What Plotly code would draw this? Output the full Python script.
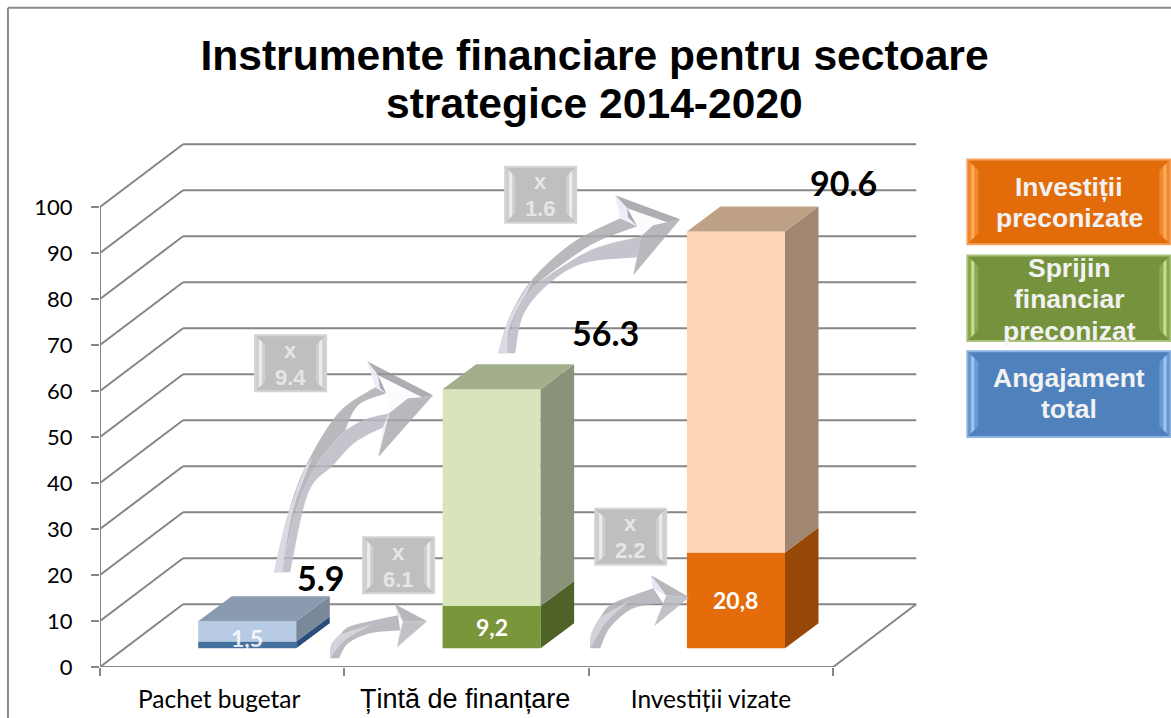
import plotly.graph_objects as go

# ---------- data ----------
categories = ["Pachet bugetar", "Țintă de finanțare", "Investiții vizate"]
lower_values = [1.5, 9.2, 20.8]
total_values = [5.9, 56.3, 90.6]
lower_labels = ["1,5", "9,2", "20,8"]
total_labels = ["5.9", "56.3", "90.6"]
y_ticks = [0, 10, 20, 30, 40, 50, 60, 70, 80, 90, 100]
multipliers = ["9.4", "6.1", "1.6", "2.2"]
legend_lines = [["Investiții", "preconizate"], ["Sprijin", "financiar", "preconizat"], ["Angajament", "total"]]

# ---------- geometry / style ----------
W, H = 1171, 718
PX0, PY0 = 100.0, 666.7      # pixel of x=-0.5, y=0
PX1, PY1 = 917.7, 142.7      # pixel of the far corner of the plot area
SX, SY = 244.3, 4.6          # px per unit
DEPTH_X, DEPTH_Y = 83 / SX, 62.7 / SY
BAR_W = 98 / SX
BAR_OX, BAR_OY = 25 / SX, 18.7 / SY
BAR_DX, BAR_DY = 33.5 / SX, 25 / SY
GRID = "#868686"
LF = "Lato"
AF = "Liberation Sans"

def fx(px): return (px - PX0) / (PX1 - PX0)   # pixel -> paper fraction
def fy(py): return (PY0 - py) / (PY0 - PY1)

front_low = ["#44709f", "#7a963a", "#e46c0a"]
front_up = ["#b7cce4", "#d8e4bc", "#fcd5b5"]
side_low = ["#2b4d7c", "#4f6228", "#974806"]
side_up = ["#79899a", "#8a9379", "#a18672"]
top_col = ["#8a9bb0", "#a3ae8c", "#bfa186"]

fig = go.Figure()
xs = [i + BAR_OX for i in range(3)]
fig.add_bar(x=xs, y=lower_values, base=[BAR_OY] * 3, width=BAR_W, marker=dict(color=front_low, line_width=0),
            showlegend=False, name="Angajament")
fig.add_bar(x=xs, y=[t - l for t, l in zip(total_values, lower_values)],
            base=[BAR_OY + l for l in lower_values], width=BAR_W,
            marker=dict(color=front_up, line_width=0), showlegend=False, name="Total")

def face(xv, yv, color):
    fig.add_scatter(x=xv, y=yv, mode="none", fill="toself", fillcolor=color, showlegend=False, hoverinfo="skip")

for i, (l, t) in enumerate(zip(lower_values, total_values)):
    x0 = xs[i] - BAR_W / 2
    x1 = xs[i] + BAR_W / 2
    b = BAR_OY
    face([x1, x1 + BAR_DX, x1 + BAR_DX, x1], [b, b + BAR_DY, b + l + BAR_DY, b + l], side_low[i])
    face([x1, x1 + BAR_DX, x1 + BAR_DX, x1], [b + l, b + l + BAR_DY, b + t + BAR_DY, b + t], side_up[i])
    face([x0, x1, x1 + BAR_DX, x0 + BAR_DX], [b + t, b + t, b + t + BAR_DY, b + t + BAR_DY], top_col[i])

shapes = []
def line(x0, y0, x1, y1, color=GRID, w=2, layer="below"):
    shapes.append(dict(type="line", xref="x", yref="y", x0=x0, y0=y0, x1=x1, y1=y1,
                       line=dict(color=color, width=w), layer=layer))

# wall grid, slanted joints, axes, floor
x_left, x_right = -0.5, 2.5
for v in y_ticks:
    line(x_left + DEPTH_X, v + DEPTH_Y, x_right + DEPTH_X, v + DEPTH_Y)
    line(x_left, v, x_left + DEPTH_X, v + DEPTH_Y)
line(x_left, 0, x_left, 100)
line(x_left, 0, x_right, 0)
line(x_right, 0, x_right + DEPTH_X, DEPTH_Y)

def poly(points, color):
    d = "M " + " L ".join(f"{fx(a):.5f},{fy(b):.5f}" for a, b in points) + " Z"
    shapes.append(dict(type="path", xref="paper", yref="paper", path=d, fillcolor=color, line_width=0, layer="above"))

def smooth(pts):
    """Catmull-Rom through pixel points (decoration outline only)."""
    p = [pts[0]] + list(pts) + [pts[-1]]
    out = []
    for k in range(1, len(p) - 2):
        p0, p1, p2, p3 = p[k - 1], p[k], p[k + 1], p[k + 2]
        for j in range(8):
            t = j / 8
            out.append(tuple(0.5 * (2 * p1[c] + (p2[c] - p0[c]) * t + (2 * p0[c] - 5 * p1[c] + 4 * p2[c] - p3[c]) * t * t
                                    + (3 * p1[c] - p0[c] - 3 * p2[c] + p3[c]) * t ** 3) for c in (0, 1)))
    out.append(pts[-1])
    return out

LAV = "rgba(236,236,250,0.92)"

def big_arrow(p):
    outer = smooth([p["bl"]] + p["outer"] + [p["ue"]])
    lower = smooth([p["gap"]] + p["lower_top"] + [p["ln"]])
    inner = smooth(p["inner"] + [p["le"]])          # from br up to lower arm end
    upper_in = smooth([p["un"]] + p["upper_in"] + [p["gap"]])
    spine = smooth([p["gap"]] + p["spine"] + [p["bm"]])
    # upper arm + left trunk
    poly(outer + upper_in + spine, "rgba(172,172,178,0.85)")
    # lower arm + right trunk
    poly(spine[::-1] + lower + inner[::-1], "rgba(186,186,196,0.85)")
    # highlight on the outer side of the trunk
    poly(smooth([p["bl"]] + p["outer"][:2]) + smooth(p["hl"] + [p["bm"]]), "rgba(222,222,232,0.9)")
    # head
    poly([p["h1"], p["h2"], p["h3"], p["ln"], p["un"]], "rgba(252,252,255,0.95)")
    poly([p["st"], p["tip"], p["h2"], p["h1"]], "rgba(150,150,156,0.78)")
    poly([p["tip"], p["ls"], p["ln"], p["h3"], p["h2"]], "rgba(166,166,172,0.80)")
    poly([p["st"], p["h1"], p["un"], p["ue"]], LAV)
    poly([p["h1"], p["un"], p["uc"]], "rgba(150,150,156,0.8)")
    poly([p["ls"], p["le"], p["ln"]], LAV)

big_arrow(dict(
    bl=(274, 572), bm=(282, 572), outer=[(287, 517), (305, 467), (338, 413)], ue=(375, 387),
    un=(386, 393), upper_in=[(358, 405)], gap=(345, 430), spine=[(318, 462), (296, 510)],
    lower_top=[(365, 419)], ln=(389, 413), le=(383, 427),
    inner=[(290, 572), (308, 493), (333, 465), (355, 442)],
    hl=[(312, 458), (293, 510)],
    st=(367, 361), tip=(433, 395), ls=(378, 457), h1=(378, 375), h2=(422, 397), h3=(408, 398), uc=(380, 388)))

big_arrow(dict(
    bl=(498, 353), bm=(507, 353), outer=[(510, 315), (533, 278), (573, 242)], ue=(620, 218),
    un=(637, 226), upper_in=[(590, 245)], gap=(538, 282), spine=[(525, 298), (512, 325)],
    lower_top=[(590, 250)], ln=(641, 236), le=(637, 257),
    inner=[(515, 353), (523, 315), (547, 285), (583, 263)],
    hl=[(528, 290), (510, 325)],
    st=(615, 195), tip=(680, 219), ls=(633, 275), h1=(627, 208), h2=(667, 222), h3=(653, 225), uc=(628, 217)))

def small_arrow(p):
    outer = smooth([p["bl"]] + p["outer"] + [p["ue"]])
    inner = smooth([p["ln"]] + p["inner"] + [p["br"]])
    poly(outer + inner, "rgba(176,176,184,0.88)")
    mid = smooth([p["bl"]] + p["mid"])
    poly(smooth([p["bl"]] + p["outer"][:2]) + mid[::-1], "rgba(214,214,222,0.9)")
    poly([p["ue"], p["st"], p["tip"], p["c"]], "rgba(172,172,178,0.88)")
    poly([p["c"], p["tip"], p["ls"], p["ln"]], "rgba(184,184,192,0.88)")
    poly([p["st"], p["ue"], p["c"]], LAV)
    poly([p["ls"], p["ln"], p["c"]], LAV)

small_arrow(dict(bl=(330, 658), br=(339, 658), outer=[(331, 645), (340, 634), (353, 625)], ue=(398, 615),
                 st=(395, 604), tip=(427, 621), ls=(397, 647), ln=(400, 630), c=(403, 621),
                 inner=[(370, 633), (348, 643)], mid=[(345, 640), (372, 624)]))
small_arrow(dict(bl=(590, 648), br=(600, 648), outer=[(591, 634), (600, 617), (613, 603)], ue=(653, 588),
                 st=(651, 575), tip=(689, 597), ls=(654, 626), ln=(663, 603), c=(666, 595),
                 inner=[(633, 608), (610, 627)], mid=[(606, 622), (630, 600)]))

annotations = []
def text(px, py, s, size, color, family=AF, bold=True):
    annotations.append(dict(xref="paper", yref="paper", x=fx(px), y=fy(py), text=f"<b>{s}</b>" if bold else s,
                            showarrow=False, xanchor="center", yanchor="middle",
                            font=dict(size=size, color=color, family=family)))

def bevel_box(x0, y0, x1, y1, base, border, mid, bright, bw=9):
    poly([(x0, y0), (x1, y0), (x1, y1), (x0, y1)], border)
    poly([(x0 + 2, y0 + 2), (x1 - 2, y0 + 2), (x1 - 2, y1 - 2), (x0 + 2, y1 - 2)], base)
    for sgn, e in ((1, x0 + 2), (-1, x1 - 2)):
        poly([(e, y0 + 2), (e + sgn * bw, y0 + 2 + bw), (e + sgn * bw, y1 - 2 - bw), (e, y1 - 2)], mid)
        poly([(e + sgn * 3, y0 + 5), (e + sgn * 6, y0 + 8), (e + sgn * 6, y1 - 8), (e + sgn * 3, y1 - 5)], bright)

# multiplier boxes
box_pos = [(254, 334), (362, 536), (504, 165.5), (594, 507.5)]
for (bx, by), m in zip(box_pos, multipliers):
    bevel_box(bx, by, bx + 73, by + 58, "#bfbfbf", "#d4d4d4", "#d0d0d0", "#ececec")
    text(bx + 36.5, by + 16, "x", 22, "#e6e6e6")
    text(bx + 36.5, by + 43, m, 22, "#e6e6e6")

# legend boxes
leg_boxes = [(158.3, 245, "#e36c0a", "#f6a35e", "#ef8a30", "#ffab5a"),
             (254.3, 341.7, "#76923c", "#a9c27a", "#8ea84f", "#c7dc94"),
             (350, 437.7, "#4f81bd", "#8db3e2", "#6b9ad2", "#9cc6f5")]
leg_y = [[186.7, 218], [268, 299, 330.5], [378, 409]]
for (y0, y1, base, border, mid, bright), lines, ys in zip(leg_boxes, legend_lines, leg_y):
    bevel_box(966, y0, 1171, y1, base, border, mid, bright, bw=10)
    for s, yy in zip(lines, ys):
        text(1069, yy, s, 26.5, "#f2f2f2")

# data labels
for i, (l, s) in enumerate(zip(lower_values, lower_labels)):
    shift = 6.5 if l < 3 else 0
    annotations.append(dict(xref="x", yref="y", x=xs[i], y=BAR_OY + l / 2, text=f"<b>{s}</b>", showarrow=False,
                            yshift=shift, xanchor="center", yanchor="middle",
                            font=dict(size=23, color="#ffffff" if l >= 3 else "rgba(255,255,255,0.85)", family=LF)))
total_pos = [(321, 577), (605, 332), (843, 182)]
for (px, py), s in zip(total_pos, total_labels):
    text(px, py, s, 34, "#000000", family=LF)

# second title line
text(594.5, 103, "strategice 2014-2020", 42.6, "#000000")

# outer frame
for a, b, c, d in ((8, H, 8, 7.5), (8, 7.5, W, 7.5)):
    shapes.append(dict(type="line", xref="paper", yref="paper", x0=fx(a), y0=fy(b), x1=fx(c), y1=fy(d),
                       line=dict(color="#8a8a8a", width=2), layer="above"))

tick_text = [categories[0], f'<span style="font-family:{AF};font-size:27px">{categories[1]}</span>', categories[2]]

fig.update_layout(
    width=W, height=H, paper_bgcolor="white", plot_bgcolor="rgba(0,0,0,0)",
    margin=dict(l=PX0, r=W - PX1, t=PY1, b=H - PY0, autoexpand=False),
    barmode="overlay", showlegend=False, shapes=shapes, annotations=annotations,
    title=dict(text="<b>Instrumente financiare pentru sectoare</b>", x=594.5 / W, xanchor="center", xref="container",
               y=1 - 55 / H, yanchor="middle", yref="container", font=dict(size=42.6, color="#000000", family=AF)),
    xaxis=dict(range=[-0.5, -0.5 + (PX1 - PX0) / SX], showgrid=False, zeroline=False, showline=False,
               tickmode="array", tickvals=[-0.012, 0.994, 2.0], ticktext=tick_text, ticks="", ticklabelstandoff=15,
               tickfont=dict(family=LF, size=24.5, color="#000000"),
               minor=dict(tickmode="array", tickvals=[-0.5, 0.5, 1.5, 2.5], ticks="outside", ticklen=8, tickwidth=2,
                          tickcolor=GRID, showgrid=False)),
    yaxis=dict(range=[0, (PY0 - PY1) / SY], showgrid=False, zeroline=False, showline=False,
               tickmode="array", tickvals=y_ticks, ticks="outside", ticklen=8, tickwidth=2, tickcolor=GRID,
               ticklabelstandoff=14, tickfont=dict(family=LF, size=22, color="#000000")),
)

fig.write_html("out.html", config={"displayModeBar": False},
               post_script="document.body.style.margin='0';document.documentElement.style.overflow='hidden';")
